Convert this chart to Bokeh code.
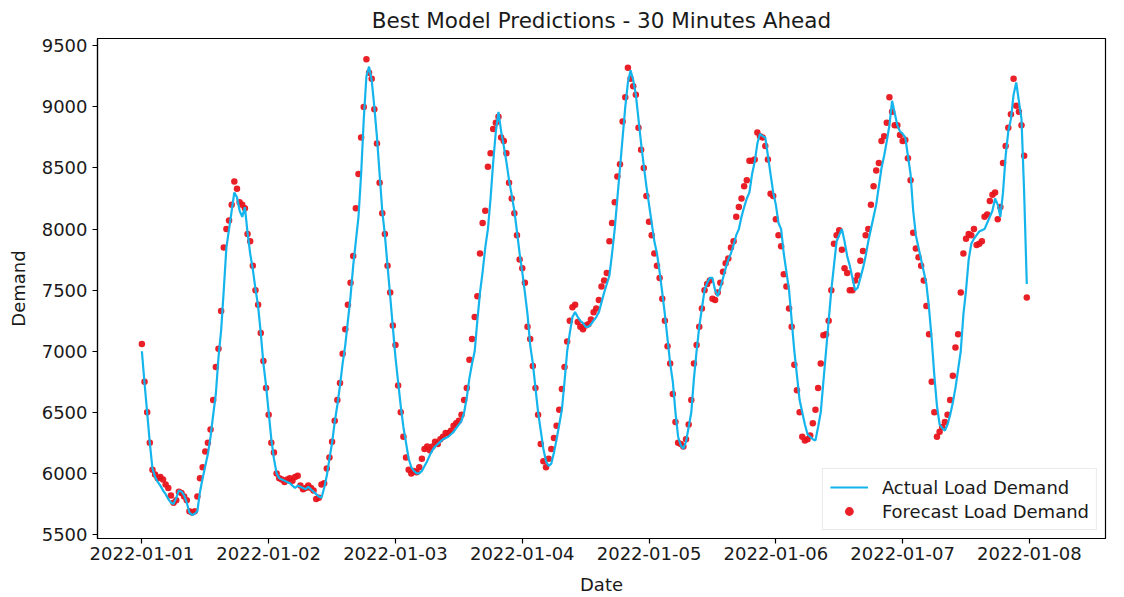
import pandas as pd
from bokeh.plotting import figure
from bokeh.models import (Range1d, FixedTicker, DatetimeTickFormatter, Legend,
                          LegendItem)
from bokeh.embed import file_html
from bokeh.resources import INLINE

# Half-hourly load demand for the first week of January 2022
start_time = "2022-01-01 00:00"
n_periods = 336

actual_demand = [
    # 2022-01-01
    7000, 6740, 6500, 6250, 6040, 5970, 5930, 5900, 5860, 5830, 5790, 5760,
    5750, 5800, 5860, 5850, 5820, 5760, 5680, 5660, 5670, 5690, 5850, 5960,
    6060, 6160, 6300, 6480, 6650, 6950, 7170, 7500, 7850, 8000, 8150, 8300,
    8260, 8150, 8100, 8180, 7970, 7800, 7670, 7510, 7370, 7150, 6900, 6720,
    # 2022-01-02
    6500, 6280, 6120, 6000, 5960, 5950, 5940, 5930, 5920, 5900, 5880, 5900,
    5890, 5880, 5870, 5890, 5870, 5850, 5830, 5810, 5800, 5880, 5980, 6120,
    6250, 6420, 6560, 6720, 6900, 7050, 7250, 7450, 7700, 7900, 8100, 8450,
    8900, 9250, 9330, 9220, 9000, 8750, 8450, 8150, 7950, 7700, 7450, 7200,
    # 2022-01-03
    6950, 6750, 6550, 6380, 6250, 6120, 6050, 6020, 6000, 6000, 6020, 6060,
    6100, 6150, 6190, 6220, 6240, 6260, 6280, 6290, 6300, 6320, 6340, 6370,
    6400, 6430, 6500, 6620, 6780, 6900, 7000, 7250, 7480, 7650, 7850, 8000,
    8250, 8550, 8800, 8960, 8800, 8680, 8550, 8400, 8280, 8150, 7980, 7800,
    # 2022-01-04
    7650, 7480, 7300, 7050, 6900, 6700, 6500, 6350, 6200, 6100, 6060, 6080,
    6170, 6280, 6400, 6520, 6750, 7000, 7150, 7280, 7320, 7280, 7250, 7230,
    7200, 7200, 7220, 7250, 7280, 7320, 7400, 7480, 7550, 7620, 7800, 8000,
    8250, 8500, 8750, 9000, 9200, 9300, 9220, 9100, 8900, 8700, 8520, 8350,
    # 2022-01-05
    8200, 8050, 7900, 7800, 7650, 7480, 7300, 7100, 6900, 6750, 6500, 6300,
    6230, 6200, 6260, 6380, 6500, 6780, 7000, 7200, 7350, 7500, 7560, 7600,
    7600, 7500, 7450, 7520, 7600, 7680, 7750, 7800, 7870, 7950, 8000, 8100,
    8180, 8250, 8300, 8450, 8550, 8700, 8780, 8760, 8750, 8600, 8450, 8300,
    # 2022-01-06
    8200, 8050, 8000, 7800, 7650, 7500, 7250, 7000, 6800, 6600, 6500, 6400,
    6320, 6300, 6280, 6270, 6380, 6500, 6750, 7000, 7250, 7500, 7700, 7900,
    7950, 8000, 7900, 7780, 7700, 7600, 7500, 7520, 7600, 7680, 7780, 7900,
    8000, 8100, 8200, 8350, 8500, 8600, 8720, 8850, 9050, 8950, 8850, 8800,
    # 2022-01-07
    8780, 8750, 8600, 8450, 8150, 7950, 7850, 7750, 7650, 7550, 7350, 7100,
    6800, 6550, 6400, 6370, 6350, 6400, 6480, 6580, 6700, 6850, 7000, 7300,
    7500, 7750, 7880, 7920, 7950, 7980, 7990, 8000, 8050, 8100, 8150, 8250,
    8200, 8100, 8300, 8600, 8800, 8900, 9100, 9200, 9050, 8900, 8300, 7550,
]

forecast_demand = [
    # 2022-01-01
    7060, 6750, 6500, 6250, 6030, 5990, 5960, 5970, 5950, 5910, 5880, 5820,
    5760, 5780, 5850, 5840, 5810, 5780, 5690, 5680, 5690, 5810, 5960, 6050,
    6180, 6250, 6360, 6600, 6870, 7020, 7330, 7850, 8000, 8070, 8200, 8390,
    8330, 8220, 8200, 8170, 7960, 7900, 7700, 7500, 7380, 7150, 6920, 6700,
    # 2022-01-02
    6480, 6250, 6170, 6000, 5960, 5950, 5930, 5950, 5960, 5940, 5970, 5980,
    5900, 5870, 5880, 5900, 5880, 5860, 5790, 5800, 5910, 5920, 6040, 6130,
    6260, 6430, 6600, 6740, 6980, 7180, 7380, 7560, 7780, 8170, 8450, 8750,
    9000, 9390, 9280, 9230, 8980, 8700, 8380, 8130, 7960, 7700, 7480, 7210,
    # 2022-01-03
    7050, 6720, 6500, 6300, 6130, 6030, 6000, 6020, 6010, 6050, 6120, 6200,
    6220, 6190, 6220, 6260, 6240, 6280, 6300, 6330, 6330, 6350, 6390, 6410,
    6430, 6480, 6600, 6700, 6930, 7100, 7280, 7450, 7800, 8050, 8150, 8510,
    8620, 8820, 8870, 8920, 8750, 8720, 8620, 8380, 8250, 8130, 7950, 7750,
    # 2022-01-04
    7680, 7560, 7200, 7100, 6880, 6700, 6480, 6240, 6100, 6050, 6120, 6200,
    6290, 6390, 6520, 6690, 6870, 7080, 7250, 7360, 7380, 7240, 7200, 7180,
    7210, 7220, 7260, 7320, 7350, 7420, 7530, 7580, 7640, 7900, 8050, 8220,
    8430, 8530, 8880, 9080, 9320, 9230, 9170, 9100, 8830, 8650, 8500, 8270,
    # 2022-01-05
    8060, 7950, 7800, 7700, 7600, 7430, 7250, 7040, 6900, 6650, 6420, 6250,
    6240, 6220, 6280, 6400, 6600, 6900, 7050, 7200, 7350, 7500, 7550, 7580,
    7430, 7420, 7480, 7560, 7650, 7720, 7760, 7850, 7900, 8100, 8180, 8250,
    8350, 8400, 8560, 8560, 8570, 8790, 8760, 8750, 8680, 8570, 8290, 8270,
    # 2022-01-06
    8080, 7950, 7860, 7630, 7530, 7350, 7200, 6890, 6680, 6500, 6300, 6270,
    6280, 6310, 6410, 6520, 6700, 6900, 7130, 7140, 7250, 7500, 7880, 7950,
    7990, 7830, 7680, 7640, 7500, 7500, 7580, 7620, 7740, 7820, 7950, 8000,
    8200, 8350, 8480, 8540, 8720, 8760, 8870, 9080, 8960, 8850, 8850, 8770,
    # 2022-01-07
    8720, 8730, 8580, 8400, 7970, 7840, 7770, 7700, 7580, 7370, 7140, 6750,
    6500, 6300, 6340, 6380, 6420, 6480, 6600, 6800, 7030, 7140, 7480, 7800,
    7920, 7960, 7950, 8000, 7870, 7880, 7900, 8100, 8120, 8230, 8280, 8300,
    8080, 8180, 8540, 8680, 8830, 8940, 9230, 9010, 8960, 8850, 8600, 7440,
]

tick_dates = ["2022-01-01", "2022-01-02", "2022-01-03", "2022-01-04",
              "2022-01-05", "2022-01-06", "2022-01-07", "2022-01-08"]
y_ticks = [5500, 6000, 6500, 7000, 7500, 8000, 8500, 9000, 9500]

times = pd.date_range(start_time, periods=n_periods, freq="30min")

FONT = "DejaVu Sans"
TEXT = "#1a1a1a"

# the time axis runs a little past the last reading
t0 = pd.Timestamp(start_time)
x_start = t0 - pd.Timedelta(hours=8.4)
x_end = t0 + pd.Timedelta(hours=182.4)

p = figure(width=1124, height=597, x_axis_type="datetime",
           output_backend="svg", toolbar_location=None,
           x_range=Range1d(x_start, x_end), y_range=Range1d(5467, 9560),
           min_border_left=97, min_border_right=19,
           min_border_top=38, min_border_bottom=59)

p.background_fill_color = "white"
p.border_fill_color = "white"
p.outline_line_color = "black"
p.outline_line_width = 1.2
p.grid.visible = False

p.title.text = "Best Model Predictions - 30 Minutes Ahead"
p.title.align = "center"
p.title.text_font = FONT
p.title.text_font_size = "21.5px"
p.title.text_font_style = "normal"
p.title.text_color = TEXT
p.title.offset = 0
p.title.standoff = 11

# forecast markers underneath, actual line on top
dots = p.scatter(times, forecast_demand, size=6.5, color="#e8141c",
                 line_color=None, alpha=0.95)
line = p.line(times, actual_demand, line_width=2.2, color="#14b4ec")

tick_ms = [pd.Timestamp(d).value / 1e6 for d in tick_dates]
p.xaxis.ticker = FixedTicker(ticks=tick_ms)
fmt = "%Y-%m-%d"
p.xaxis.formatter = DatetimeTickFormatter(
    microseconds=fmt, milliseconds=fmt, seconds=fmt, minsec=fmt,
    minutes=fmt, hourmin=fmt, hours=fmt, days=fmt, months=fmt, years=fmt)
p.yaxis.ticker = FixedTicker(ticks=y_ticks)

for ax in (p.xaxis, p.yaxis):
    ax.axis_line_color = "black"
    ax.axis_line_width = 1.2
    ax.major_tick_line_color = "black"
    ax.major_tick_line_width = 1.2
    ax.major_tick_out = 5
    ax.major_tick_in = 0
    ax.minor_tick_line_color = None
    ax.major_label_text_font = FONT
    ax.major_label_text_font_size = "18px"
    ax.major_label_text_color = TEXT
    ax.axis_label_text_font = FONT
    ax.axis_label_text_font_size = "18px"
    ax.axis_label_text_font_style = "normal"
    ax.axis_label_text_color = TEXT

p.xaxis.axis_label = "Date"
p.xaxis.major_label_standoff = 3
p.xaxis.axis_label_standoff = 11
p.yaxis.axis_label = "Demand"
p.yaxis.major_label_standoff = 5
p.yaxis.axis_label_standoff = 10

legend = Legend(items=[
    LegendItem(label="Actual Load Demand", renderers=[line]),
    LegendItem(label="Forecast Load Demand", renderers=[dots]),
], location="bottom_right")
legend.label_text_font = FONT
legend.label_text_font_size = "18px"
legend.label_text_color = TEXT
legend.border_line_color = "#d6d6d6"
legend.border_line_width = 1
legend.background_fill_alpha = 0.8
legend.glyph_width = 38
legend.glyph_height = 22
legend.label_standoff = 14
legend.spacing = 2
legend.padding = 7
legend.margin = 8
p.add_layout(legend)

open("out.html", "w").write(file_html(p, INLINE))
